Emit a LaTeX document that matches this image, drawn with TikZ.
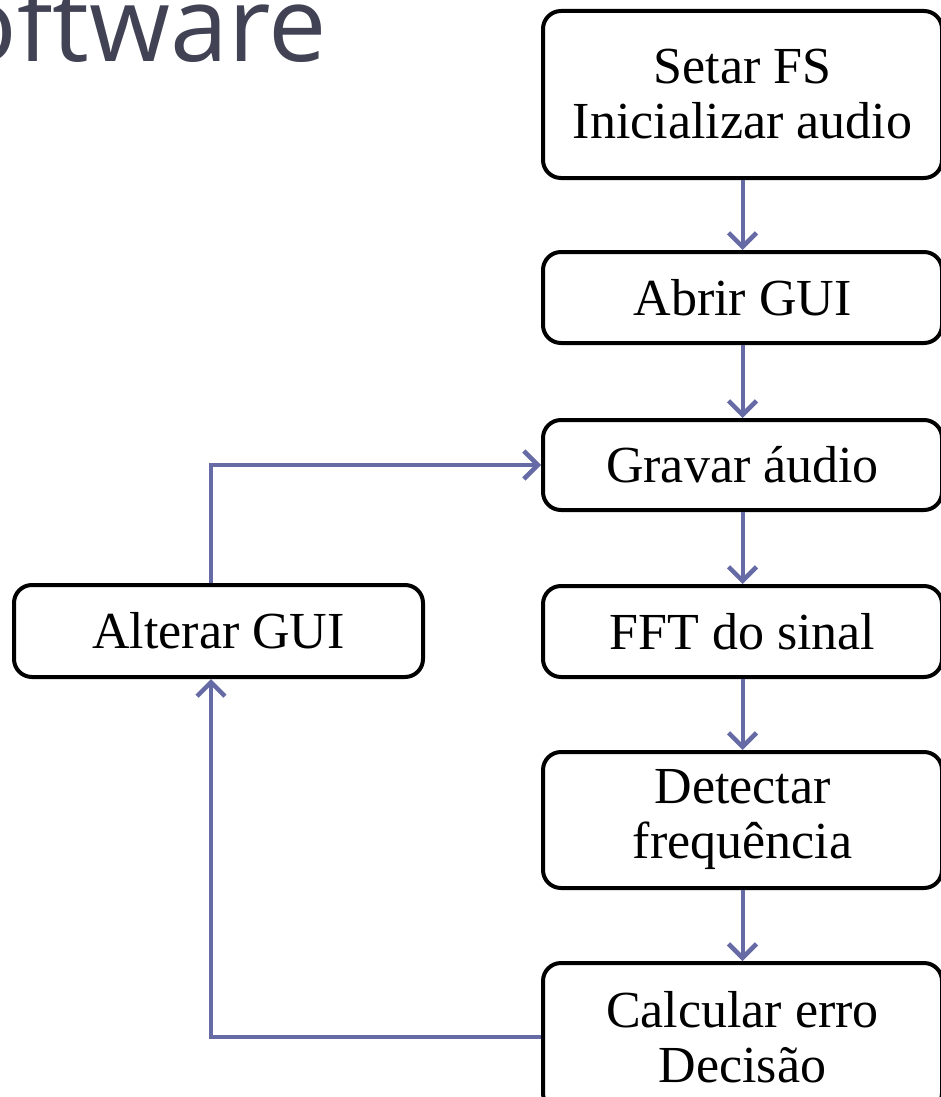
\documentclass[tikz,border=0pt]{standalone}
\usepackage{fontspec}
\setmainfont{Liberation Serif}
\newfontfamily\titlefont{Open Sans}
\usetikzlibrary{arrows.meta}
\definecolor{arrowblue}{RGB}{102,106,165}
\definecolor{titlegray}{RGB}{65,66,84}
\tikzset{
  box/.style={draw=black, line width=4pt, rounded corners=18pt, fill=white,
    align=center, inner sep=0pt, font=\fontsize{52}{55}\selectfont},
  rbox/.style={box, minimum width=399pt},
  arr/.style={draw=arrowblue, line width=4pt,
    -{Straight Barb[length=14pt,width=28pt,line width=4.5pt]}},
}
\begin{document}
\begin{tikzpicture}[x=1pt,y=-1pt]
\useasboundingbox (0,0) rectangle (941,1097);
\node[anchor=base east, text=titlegray, inner sep=0pt, font=\titlefont\fontsize{104}{104}\selectfont] (title) at (327,62) {oftware};
\node[rbox, minimum height=167pt] (b1) at (742.5,94.5) {Setar FS\\Inicializar audio};
\node[rbox, minimum height=91pt] (b2) at (742.5,297.5) {Abrir GUI};
\node[rbox, minimum height=90pt] (b3) at (742.5,465) {Gravar áudio};
\node[rbox, minimum height=91pt] (b4) at (742.5,631.5) {FFT do sinal};
\node[rbox, minimum height=136pt] (b5) at (742.5,820) {Detectar\\frequência};
\node[rbox, minimum height=148pt] (b6) at (742.5,1037) {Calcular erro\\Decisão};
\node[box, minimum width=409pt, minimum height=92pt] (alt) at (218.5,631) {Alterar GUI};
\coordinate (lx) at (211,0);
\draw[arr] (b1.south) -- (b2.north);
\draw[arr] (b2.south) -- (b3.north);
\draw[arr] (b3.south) -- (b4.north);
\draw[arr] (b4.south) -- (b5.north);
\draw[arr] (b5.south) -- (b6.north);
\draw[arr] (b6.west) -- (b6.west -| lx) -- (lx |- alt.south);
\draw[arr] (lx |- alt.north) -- (lx |- b3.west) -- (b3.west);
\end{tikzpicture}
\end{document}
